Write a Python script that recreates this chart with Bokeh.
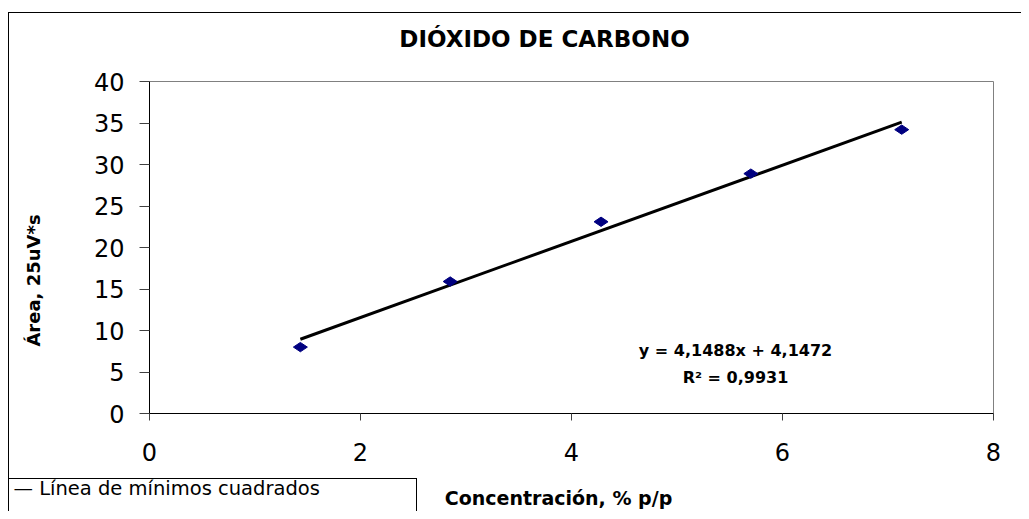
import numpy as np
from bokeh.plotting import figure
from bokeh.models import Label, FixedTicker, Range1d
from bokeh.embed import file_html
from bokeh.resources import INLINE

# ---- data ----
conc = [1.43, 2.85, 4.28, 5.70, 7.13]        # Concentración, % p/p
area = [8.0, 15.9, 23.1, 28.9, 34.2]         # Área, 25uV*s
x_ticks = [0, 2, 4, 6, 8]
y_ticks = [0, 5, 10, 15, 20, 25, 30, 35, 40]
title_text = "DIÓXIDO DE CARBONO"
x_label = "Concentración, % p/p"
y_label = "Área, 25uV*s"
eq_text = "y = 4,1488x + 4,1472"
r2_text = "R² = 0,9931"
legend_text = "— Línea de mínimos cuadrados"

# least squares line
slope, intercept = np.polyfit(conc, area, 1)
fit_x = [min(conc), max(conc)]
fit_y = [slope * v + intercept for v in fit_x]

W, H = 1021, 511
FL, FR, FT, FB = 149, 993, 81, 413   # frame edges in canvas pixels
XMIN, XMAX, YMIN, YMAX = 0, 8, 0, 40

p = figure(width=W, height=H, output_backend="svg", toolbar_location=None,
           x_range=Range1d(XMIN, XMAX), y_range=Range1d(YMIN, YMAX),
           min_border_left=FL, min_border_right=W - FR,
           min_border_top=FT, min_border_bottom=H - FB)

def dx(px):
    return XMIN + (px - FL) / (FR - FL) * (XMAX - XMIN)

def dy(py):
    return YMIN + (FB - py) / (FB - FT) * (YMAX - YMIN)

# chart-area border and legend box drawn as CSS background lines of the figure element
K = "linear-gradient(#000,#000)"
p.styles = {
    "background": ", ".join([
        f"{K} 8px 12px / 1px 600px no-repeat",      # outer border, left
        f"{K} 8px 12px / 1200px 1px no-repeat",     # outer border, top
        f"{K} 8px 478px / 409px 1px no-repeat",     # legend box, top
        f"{K} 416px 478px / 1px 100px no-repeat",   # legend box, right
        "white",
    ])
}
p.border_fill_color = None
p.background_fill_color = "white"
p.outline_line_color = "#808080"
p.outline_line_width = 1
p.xgrid.visible = False
p.ygrid.visible = False

FONT = "DejaVu Sans"
for ax, ticks, tout, so in ((p.xaxis[0], x_ticks, 7, 22), (p.yaxis[0], y_ticks, 10, 15)):
    ax.ticker = FixedTicker(ticks=ticks)
    ax.minor_tick_line_color = None
    ax.major_tick_in = 0
    ax.major_tick_out = tout
    ax.major_tick_line_color = "#404040"
    ax.axis_line_color = "black"
    ax.major_label_text_font = FONT
    ax.major_label_text_font_size = "24px"
    ax.major_label_text_color = "black"
    ax.major_label_standoff = so

# fit line and points
p.line(fit_x, fit_y, line_color="black", line_width=3)
p.scatter(conc, area, marker="diamond", angle=np.pi / 2, size=14,
          fill_color="#000080", line_color="#000080")

def lab(text, px, py, size, panel, bold=True, align="center", angle=0):
    p.add_layout(Label(x=px, y=py, x_units="canvas", y_units="canvas",
                       text=text, text_font=FONT,
                       text_font_size=size, text_font_style="bold" if bold else "normal",
                       text_align=align, text_baseline="middle", angle=angle,
                       text_color="black"), panel)

lab(title_text, 544, 38, "23px", "above")
lab(legend_text, 13, 488, "19.5px", "above", bold=False, align="left")
lab(y_label, 33, 280, "18px", "left", angle=np.pi / 2)
lab(x_label, 558, 497, "19px", "below")

p.add_layout(Label(x=dx(735), y=dy(350), text=eq_text, text_font=FONT, text_font_size="16px",
                   text_font_style="bold", text_align="center", text_baseline="middle",
                   text_color="black"))
p.add_layout(Label(x=dx(735), y=dy(377), text=r2_text, text_font=FONT, text_font_size="16px",
                   text_font_style="bold", text_align="center", text_baseline="middle",
                   text_color="black"))

open("out.html", "w").write(file_html(p, INLINE))
